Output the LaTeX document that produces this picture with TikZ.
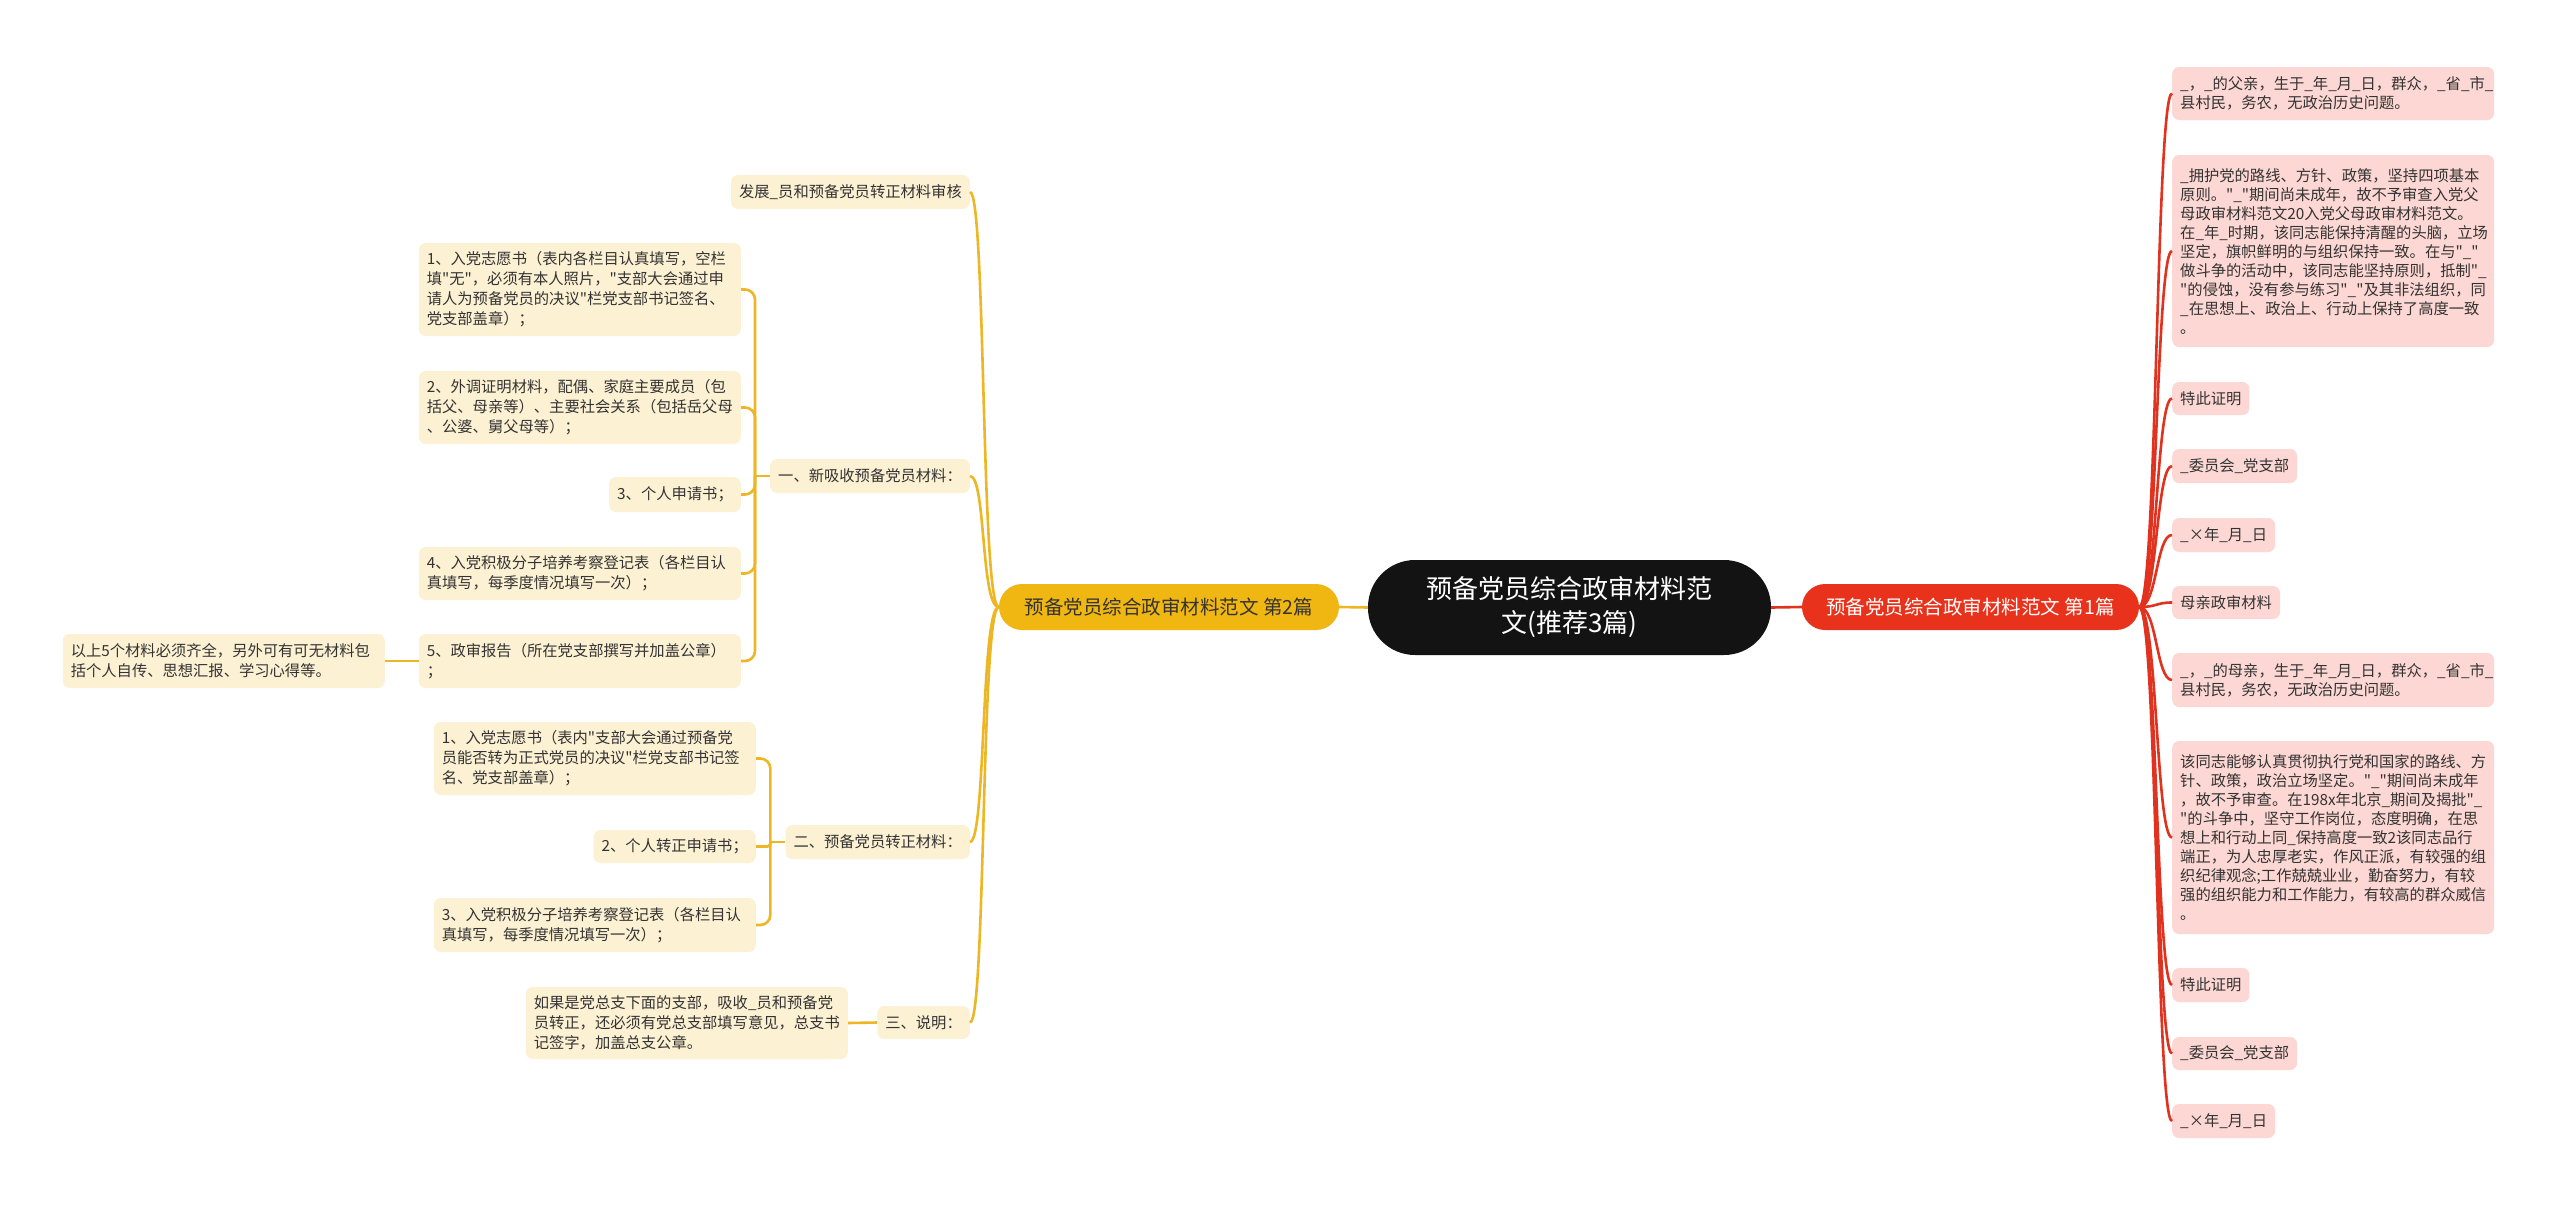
\documentclass[tikz,border=0pt]{standalone}
\usepackage{fontspec}
\setmainfont{Noto Sans CJK SC}[Ligatures=TeXOff]
\definecolor{yfill}{HTML}{FDF1D3}
\definecolor{pfill}{HTML}{FCD7D3}
\definecolor{ylinec}{HTML}{EDB624}
\definecolor{rlinec}{HTML}{E0321E}
\definecolor{ynode}{HTML}{F0B611}
\definecolor{rnode}{HTML}{E8321B}
\definecolor{txt}{HTML}{333333}
\definecolor{cnode}{HTML}{131313}
\newcommand\tboxy{\fontsize{15.3}{20}\selectfont}
\newcommand\tboxp{\fontsize{15.3}{19}\selectfont}
\newcommand\tbranch{\fontsize{19.5}{23}\selectfont}
\newcommand\tcenter{\fontsize{26}{34}\selectfont}
\begin{document}
\begin{tikzpicture}[x=1pt,y=-1pt,
  yb/.style={fill=yfill, rounded corners=7, text=txt, font=\tboxy, inner xsep=8, inner ysep=0, anchor=east},
  pb/.style={fill=pfill, rounded corners=7, text=txt, font=\tboxp, inner xsep=8, inner ysep=0, anchor=west},
  wide/.style={text width=306, align=left},
  yl/.style={draw=ylinec, line width=2.6},
  rl/.style={draw=rlinec, line width=2.6},
  branch/.style={rounded corners=23, minimum height=46, inner xsep=0, font=\tbranch}
]
\useasboundingbox (0,0) rectangle (2560,1205);
\fill[white] (0,0) rectangle (2560,1205);

% centre and branches
\node[fill=cnode, text=white, rounded corners=47, minimum width=403, minimum height=95, align=center, font=\tcenter, inner sep=0] (c) at (1569.5,607.5) {预备党员综合政审材料范\\文(推荐3篇)};
\node[branch, fill=rnode, text=white, minimum width=337] (b1) at (1970.5,607) {预备党员综合政审材料范文 第1篇};
\node[branch, fill=ynode, text=txt, minimum width=340] (b2) at (1169,607) {预备党员综合政审材料范文 第2篇};
\draw[rl] (c.east) -- (b1.west);
\draw[yl] (c.west) -- (b2.east);

% right side
\node[pb, wide, minimum height=53] (r1) at (2172,93.5) {\_，\_的父亲，生于\_年\_月\_日，群众，\_省\_市\_\\县村民，务农，无政治历史问题。};
\node[pb, wide, minimum height=192] (r2) at (2172,251) {\_拥护党的路线、方针、政策，坚持四项基本\\原则。"\_"期间尚未成年，故不予审查入党父\\母政审材料范文20入党父母政审材料范文。\\在\_年\_时期，该同志能保持清醒的头脑，立场\\坚定，旗帜鲜明的与组织保持一致。在与"\_"\\做斗争的活动中，该同志能坚持原则，抵制"\_\\"的侵蚀，没有参与练习"\_"及其非法组织，同\\\_在思想上、政治上、行动上保持了高度一致\\。};
\node[pb, minimum height=33] (r3) at (2172,398.5) {特此证明};
\node[pb, minimum height=34] (r4) at (2172,466) {\_委员会\_党支部};
\node[pb, minimum height=34] (r5) at (2172,535) {\_×年\_月\_日};
\node[pb, minimum height=33] (r6) at (2172,602.5) {母亲政审材料};
\node[pb, wide, minimum height=54] (r7) at (2172,680) {\_，\_的母亲，生于\_年\_月\_日，群众，\_省\_市\_\\县村民，务农，无政治历史问题。};
\node[pb, wide, minimum height=193] (r8) at (2172,837.5) {该同志能够认真贯彻执行党和国家的路线、方\\针、政策，政治立场坚定。"\_"期间尚未成年\\，故不予审查。在198x年北京\_期间及揭批"\_\\"的斗争中，坚守工作岗位，态度明确，在思\\想上和行动上同\_保持高度一致2该同志品行\\端正，为人忠厚老实，作风正派，有较强的组\\织纪律观念;工作兢兢业业，勤奋努力，有较\\强的组织能力和工作能力，有较高的群众威信\\。};
\node[pb, minimum height=34] (r9) at (2172,985) {特此证明};
\node[pb, minimum height=33] (r10) at (2172,1053.5) {\_委员会\_党支部};
\node[pb, minimum height=34] (r11) at (2172,1121) {\_×年\_月\_日};
\foreach \n in {r1,r2,r3,r4,r5,r6,r7,r8,r9,r10,r11}
  \draw[rl] (b1.east) .. controls +(18,0) and +(-16,0) .. (\n.west);

% left side, level 1
\node[yb, minimum height=34] (l0) at (970,192) {发展\_员和预备党员转正材料审核};
\node[yb, minimum height=34] (l1) at (970,476) {一、新吸收预备党员材料：};
\node[yb, minimum height=34] (l2) at (970,842) {二、预备党员转正材料：};
\node[yb, minimum height=33] (l3) at (970,1022.5) {三、说明：};
\foreach \n in {l0,l1,l2,l3}
  \draw[yl] (b2.west) .. controls +(-18,0) and +(16,0) .. (\n.east);

% under 一
\node[yb, wide, minimum height=93] (a1) at (741,289.5) {1、入党志愿书（表内各栏目认真填写，空栏\\填"无"，必须有本人照片，"支部大会通过申\\请人为预备党员的决议"栏党支部书记签名、\\党支部盖章）；};
\node[yb, wide, minimum height=73] (a2) at (741,407.5) {2、外调证明材料，配偶、家庭主要成员（包\\括父、母亲等）、主要社会关系（包括岳父母\\、公婆、舅父母等）；};
\node[yb, minimum height=35] (a3) at (741,494.5) {3、个人申请书；};
\node[yb, wide, minimum height=53] (a4) at (741,573.5) {4、入党积极分子培养考察登记表（各栏目认\\真填写，每季度情况填写一次）；};
\node[yb, wide, minimum height=54] (a5) at (741,661) {5、政审报告（所在党支部撰写并加盖公章）\\；};
\node[yb, wide, minimum height=54] (x1) at (385,661) {以上5个材料必须齐全，另外可有可无材料包\\括个人自传、思想汇报、学习心得等。};
\draw[yl] (l1.west) -- ++(-15,0);
\foreach \n in {a1,a2,a3,a4,a5}
  \draw[yl, rounded corners=10] ([xshift=-15pt]l1.west) |- (\n.east);
\draw[yl] (a5.west) -- (x1.east);

% under 二
\node[yb, wide, minimum height=73] (d1) at (756,758.5) {1、入党志愿书（表内"支部大会通过预备党\\员能否转为正式党员的决议"栏党支部书记签\\名、党支部盖章）；};
\node[yb, minimum height=33] (d2) at (756,846.5) {2、个人转正申请书；};
\node[yb, wide, minimum height=54] (d3) at (756,925) {3、入党积极分子培养考察登记表（各栏目认\\真填写，每季度情况填写一次）；};
\draw[yl] (l2.west) -- ++(-15,0);
\draw[yl, rounded corners=10] ([xshift=-15pt]l2.west) |- (d1.east);
\draw[yl, rounded corners=3] ([xshift=-15pt]l2.west) |- (d2.east);
\draw[yl, rounded corners=10] ([xshift=-15pt]l2.west) |- (d3.east);

% under 三
\node[yb, wide, minimum height=72] (e1) at (848,1023) {如果是党总支下面的支部，吸收\_员和预备党\\员转正，还必须有党总支部填写意见，总支书\\记签字，加盖总支公章。};
\draw[yl] (l3.west) -- (e1.east);
\end{tikzpicture}
\end{document}
